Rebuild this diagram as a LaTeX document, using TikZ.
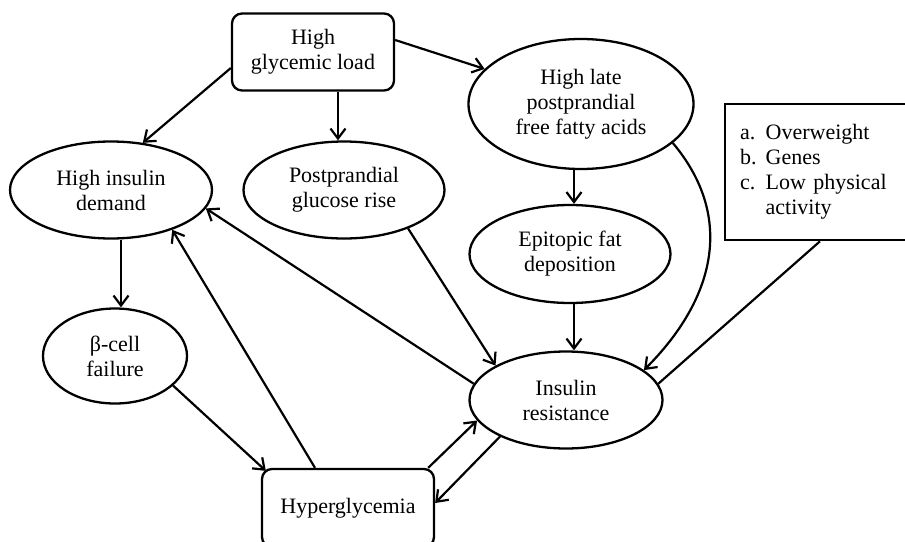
\documentclass[tikz,border=0pt]{standalone}
\usepackage{fontspec}
\setmainfont{Liberation Serif}
\usetikzlibrary{shapes.geometric,arrows.meta}
\begin{document}
\begin{tikzpicture}[
    x=1pt, y=-1pt,
    font=\fontsize{22}{25}\selectfont,
    oval/.style={ellipse, draw, line width=2.3pt, inner sep=0pt, align=center},
    block/.style={rectangle, draw, line width=2.3pt, rounded corners=10pt, align=center},
    listbox/.style={rectangle, draw, line width=2.3pt, anchor=north west, inner xsep=15pt, text width=165pt, align=left},
    arrow/.style={line width=2.2pt, -{Straight Barb[length=10pt,width=15pt]}}
]
    \useasboundingbox (0,0) rectangle (905,541);
    \clip (0,0) rectangle (905,541);

    \node (glyc) [block, minimum width=162pt, minimum height=77pt] at (313,52) {High\\glycemic load};
    \node (hid) [oval, minimum width=202pt, minimum height=97pt] at (111,190) {High insulin\\demand};
    \node (ppg) [oval, minimum width=201pt, minimum height=97pt] at (344,190) {Postprandial\\glucose rise};
    \node (ffa) [oval, minimum width=225pt, minimum height=130pt] at (581,104) {High late\\postprandial\\free fatty acids};
    \node (epi) [oval, minimum width=201pt, minimum height=98pt] at (570,254) {Epitopic fat\\deposition};
    \node (ir) [oval, minimum width=193pt, minimum height=97pt] at (566,400) {Insulin\\resistance};
    \node (bcell) [oval, minimum width=144pt, minimum height=95pt] at (115,356) {β-cell\\failure};
    \node (hyper) [block, minimum width=172pt, minimum height=78pt] at (348,508) {Hyperglycemia};
    \node (risk) [listbox, minimum width=195pt, minimum height=136pt] at (724,103)
        {\begin{tabular}{@{}l@{\hspace{9pt}}l@{}}
         a. & Overweight\\
         b. & Genes\\
         c. & Low physical\\
            & activity
         \end{tabular}};

    \draw [arrow] ([yshift=-16pt]glyc.west) -- (hid.56);
    \draw [arrow] ([xshift=25pt]glyc.south) -- ([xshift=25pt]glyc.south |- ppg.north);
    \draw [arrow] ([yshift=12pt]glyc.east) -- (ffa.160);
    \draw [arrow] ([xshift=10pt]hid.south) -- ([xshift=10pt]hid.south |- bcell.north);
    \draw [arrow] ([xshift=-7pt]ffa.south) -- ([xshift=-7pt]ffa.south |- epi.north);
    \draw [arrow] (ffa.-23) to[out=-50, in=45, looseness=1.1] (ir.21);
    \draw [arrow] ([xshift=4pt]epi.south) -- ([xshift=4pt]epi.south |- ir.north);
    \draw [arrow] (ppg.-31) -- (ir.154);
    \draw [arrow] (ir.170) -- (hid.-11);
    \draw [arrow] ([xshift=-33pt]hyper.north) -- (hid.-33);
    \draw [arrow] (bcell.-27) -- ([xshift=5pt,yshift=-3pt]hyper.north west);
    \draw [arrow] ([xshift=-7pt]hyper.north east) -- (ir.193);
    \draw [arrow] (ir.209) -- ([yshift=5pt]hyper.east);
    \draw [line width=2.2pt] ([xshift=96pt]risk.south west) -- (ir.10);
\end{tikzpicture}
\end{document}
